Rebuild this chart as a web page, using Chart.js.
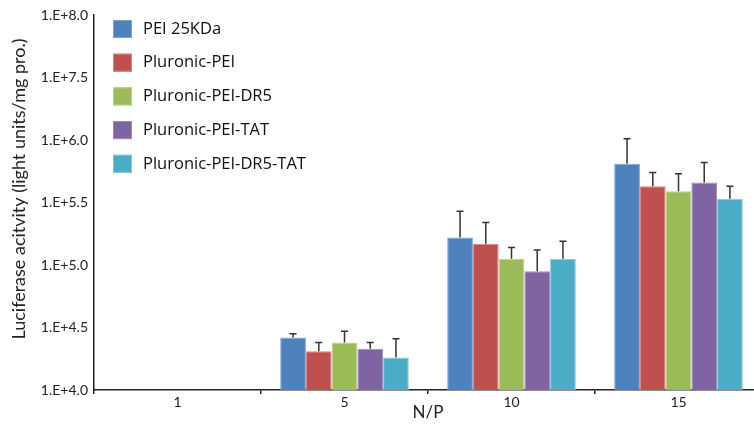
<!DOCTYPE html>
<html><head><meta charset="utf-8">
<script src="https://cdn.jsdelivr.net/npm/chart.js@4"></script>
<style>html,body{margin:0;padding:0;overflow:hidden;background:#fff;width:754px;height:424px}</style>
</head><body>
<canvas id="c" width="762" height="424" style="display:block"></canvas>
<script>
const categories = ['1', '5', '10', '15'];
const seriesNames = ['PEI 25KDa', 'Pluronic-PEI', 'Pluronic-PEI-DR5', 'Pluronic-PEI-TAT', 'Pluronic-PEI-DR5-TAT'];
// values in log10 units
const pei25kda       = [null, 4.42, 5.22, 5.81];
const pluronicPei    = [null, 4.31, 5.17, 5.63];
const pluronicDr5    = [null, 4.38, 5.05, 5.59];
const pluronicTat    = [null, 4.33, 4.95, 5.66];
const pluronicDr5Tat = [null, 4.26, 5.05, 5.53];
// upper error (SD) in log10 units
const errPei25kda       = [null, 0.03, 0.21, 0.20];
const errPluronicPei    = [null, 0.07, 0.17, 0.11];
const errPluronicDr5    = [null, 0.09, 0.09, 0.14];
const errPluronicTat    = [null, 0.05, 0.17, 0.16];
const errPluronicDr5Tat = [null, 0.15, 0.14, 0.10];
const yTickLabels = ['1.E+4.0', '1.E+4.5', '1.E+5.0', '1.E+5.5', '1.E+6.0', '1.E+7.5', '1.E+8.0'];
const yTitle = 'Luciferase acitvity (light units/mg pro.)';
const colors = ['#4F81BD', '#C0504D', '#9BBB59', '#8064A2', '#4BACC6'];
const borders = ['#7FA3D0', '#D98583', '#B9D08A', '#A18DBD', '#86C7D8'];

const values = [pei25kda, pluronicPei, pluronicDr5, pluronicTat, pluronicDr5Tat];
const errs = [errPei25kda, errPluronicPei, errPluronicDr5, errPluronicTat, errPluronicDr5Tat];

const FONT = 'Lato, "Liberation Sans", sans-serif';
const LFONT = '"Open Sans", Lato, sans-serif';

const errorBars = {
  id: 'errorBars',
  afterDatasetsDraw(chart) {
    const ctx = chart.ctx, y = chart.scales.y;
    ctx.save();
    ctx.strokeStyle = '#333';
    ctx.lineWidth = 1.5;
    chart.data.datasets.forEach((ds, i) => {
      const meta = chart.getDatasetMeta(i);
      meta.data.forEach((bar, j) => {
        const v = ds.data[j], e = ds.err[j];
        if (v == null || e == null) return;
        const yTop = y.getPixelForValue(v + e);
        const yBase = y.getPixelForValue(v);
        ctx.beginPath();
        ctx.moveTo(bar.x, yBase);
        ctx.lineTo(bar.x, yTop);
        ctx.moveTo(bar.x - 3.5, yTop);
        ctx.lineTo(bar.x + 3.5, yTop);
        ctx.stroke();
      });
    });
    ctx.restore();
  }
};

const customLegend = {
  id: 'customLegend',
  afterDraw(chart) {
    const ctx = chart.ctx;
    ctx.save();
    ctx.font = '16.5px ' + LFONT;
    ctx.textBaseline = 'middle';
    chart.data.datasets.forEach((ds, i) => {
      const cy = 29 + i * 33.7;
      ctx.fillStyle = ds.backgroundColor;
      ctx.fillRect(113, cy - 9, 19, 18);
      ctx.strokeStyle = ds.borderColor;
      ctx.lineWidth = 1;
      ctx.strokeRect(113.5, cy - 8.5, 18, 17);
      ctx.fillStyle = '#111';
      ctx.fillText(ds.label, 143, cy);
    });
    // y axis title
    ctx.translate(19, 189);
    ctx.rotate(-Math.PI / 2);
    ctx.font = '18px ' + FONT;
    ctx.textAlign = 'center';
    ctx.fillStyle = '#222';
    ctx.fillText(yTitle, 0, 0);
    ctx.restore();
  }
};

new Chart(document.getElementById('c'), {
  type: 'bar',
  data: {
    labels: categories,
    datasets: seriesNames.map((n, i) => ({
      label: n,
      data: values[i],
      err: errs[i],
      backgroundColor: colors[i],
      borderColor: borders[i],
      borderWidth: 1,
      categoryPercentage: 0.77,
      barPercentage: 1.0
    }))
  },
  options: {
    responsive: false,
    animation: false,
    layout: { padding: { top: 15, right: 0, left: 0, bottom: 0 } },
    plugins: { legend: { display: false }, tooltip: { enabled: false } },
    scales: {
      x: {
        grid: { display: true, drawOnChartArea: false, offset: true, tickLength: 4, color: '#222', lineWidth: 1.5 },
        border: { display: true, color: '#222', width: 1.5 },
        ticks: { font: { size: 14, family: FONT }, color: '#222', padding: 0 },
        title: { display: true, text: 'N/P', font: { size: 17, family: FONT }, color: '#222', padding: { top: 0, bottom: 1 } },
        afterFit(s) { s.height = 34; }
      },
      y: {
        min: 4, max: 7,
        grid: { display: true, drawOnChartArea: false, tickLength: 0, color: '#222' },
        border: { display: true, color: '#222', width: 1.5 },
        ticks: {
          stepSize: 0.5,
          font: { size: 14, family: FONT }, color: '#222', padding: 6,
          callback: (v, idx) => yTickLabels[idx]
        },
        title: { display: false },
        afterFit(s) { s.width = 94; }
      }
    }
  },
  plugins: [errorBars, customLegend]
});
</script>
</body></html>
